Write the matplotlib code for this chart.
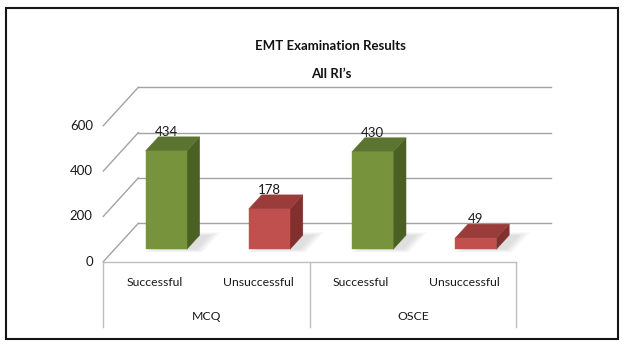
import matplotlib
matplotlib.use("Agg")
import matplotlib.pyplot as plt
from matplotlib.patches import Polygon, Rectangle

plt.rcParams["font.family"] = ["Lato", "DejaVu Sans"]

# data
categories = ["Successful", "Unsuccessful", "Successful", "Unsuccessful"]
groups = ["MCQ", "OSCE"]
values = [434, 178, 430, 49]
outcome = ["pass", "fail", "pass", "fail"]
yticks = [0, 200, 400, 600]

colors = {
    "pass": {"front": "#77933c", "side": "#4b6124", "top": "#5b7430"},
    "fail": {"front": "#c0504d", "side": "#82302e", "top": "#9a3c39"},
}

W, H = 624, 347
fig = plt.figure(figsize=(W / 100, H / 100), dpi=100)

# front plane of the floor: categories -0.5..3.5, values 0..600
ax_left, ax_right, ax_zero, ax_top = 103.3, 516.0, 261.7, 125.7
ax = fig.add_axes([ax_left / W, 1 - ax_zero / H,
                   (ax_right - ax_left) / W, (ax_zero - ax_top) / H])
ax.set_xlim(-0.5, 3.5)
ax.set_ylim(0, 600)
ax.axis("off")

px_x = (ax_right - ax_left) / 4.0
px_y = (ax_zero - ax_top) / 600.0
depth_x = 35.0 / px_x
depth_y = 38.4 / px_y

label_size = 9.5
cat_size = 8.8
text_col = "#1a1a1a"


def proj(x, v, d):
    # oblique projection: depth d (0 = front, 1 = back wall)
    return (x + d * depth_x, v + d * depth_y)


grid_kw = dict(color="#a3a3a3", lw=1.0, clip_on=False, zorder=1)
for v in yticks:
    x0, y0 = proj(-0.5, v, 1)
    x1, y1 = proj(3.5, v, 1)
    ax.plot([x0, x1], [y0, y1], **grid_kw)
    xf, yf = proj(-0.5, v, 0)
    ax.plot([xf, x0], [yf, y0], **grid_kw)
    ax.annotate(str(v), xy=(xf, yf), xytext=(-10.5, 0), textcoords="offset pixels",
                ha="right", va="center", fontsize=label_size, color=text_col)

# category box under the floor
box_kw = dict(color="#bdbdbd", lw=1.0, clip_on=False, zorder=1)
xt = ax.get_xaxis_transform()
ax.plot([-0.5, 3.5], [0, 0], **box_kw)
for xv in [-0.5, 1.5, 3.5]:
    ax.plot([xv, xv], [0, -65.6 / 136], transform=xt, **box_kw)

for i, cat in enumerate(categories):
    ax.text(i, -21 / 136, cat, transform=xt, ha="center", va="center",
            fontsize=cat_size, color=text_col)
for j, grp in enumerate(groups):
    ax.text(2 * j + 0.5, -55 / 136, grp, transform=xt, ha="center", va="center",
            fontsize=cat_size, color=text_col)

# bars
w = 0.2
f1, f2 = 0.323, 0.69
for i, (h, kind) in enumerate(zip(values, outcome)):
    c = colors[kind]
    # soft shadow on the floor
    for k in range(4):
        s = 0.025 * k
        pts = [proj(i - w + 0.1 - s, 0, f1 - s), proj(i + w + 0.1 + s, 0, f1 - s),
               proj(i + w + 0.1 + s, 0, f2 + s), proj(i - w + 0.1 - s, 0, f2 + s)]
        ax.add_patch(Polygon(pts, closed=True, fc="#707070", ec="none",
                             alpha=0.06, clip_on=False, zorder=2))
    front = [proj(i - w, 0, f1), proj(i + w, 0, f1), proj(i + w, h, f1), proj(i - w, h, f1)]
    side = [proj(i + w, 0, f1), proj(i + w, 0, f2), proj(i + w, h, f2), proj(i + w, h, f1)]
    top = [proj(i - w, h, f1), proj(i + w, h, f1), proj(i + w, h, f2), proj(i - w, h, f2)]
    for pts, col in [(side, c["side"]), (top, c["top"]), (front, c["front"])]:
        ax.add_patch(Polygon(pts, closed=True, fc=col, ec=col, lw=0.3,
                             clip_on=False, zorder=3))
    ax.annotate(str(h), xy=proj(i, h, f1), xytext=(0, 19), textcoords="offset pixels",
                ha="center", va="center", fontsize=label_size, color=text_col, zorder=4)

fig.text(330 / W, 1 - 45.8 / H, "EMT Examination Results", ha="center", va="center",
         fontsize=9.5, fontweight="bold", color="#111111")
fig.text(331.5 / W, 1 - 73.6 / H, "All RI\u2019s", ha="center", va="center",
         fontsize=9.5, fontweight="bold", color="#111111")

fig.patches.append(Rectangle((6 / W, 1 - 339 / H), (617.5 - 6) / W, (339 - 7.5) / H,
                             transform=fig.transFigure, fill=False, lw=1.5,
                             ec="#151515"))

fig.savefig("out.png", dpi=100)
